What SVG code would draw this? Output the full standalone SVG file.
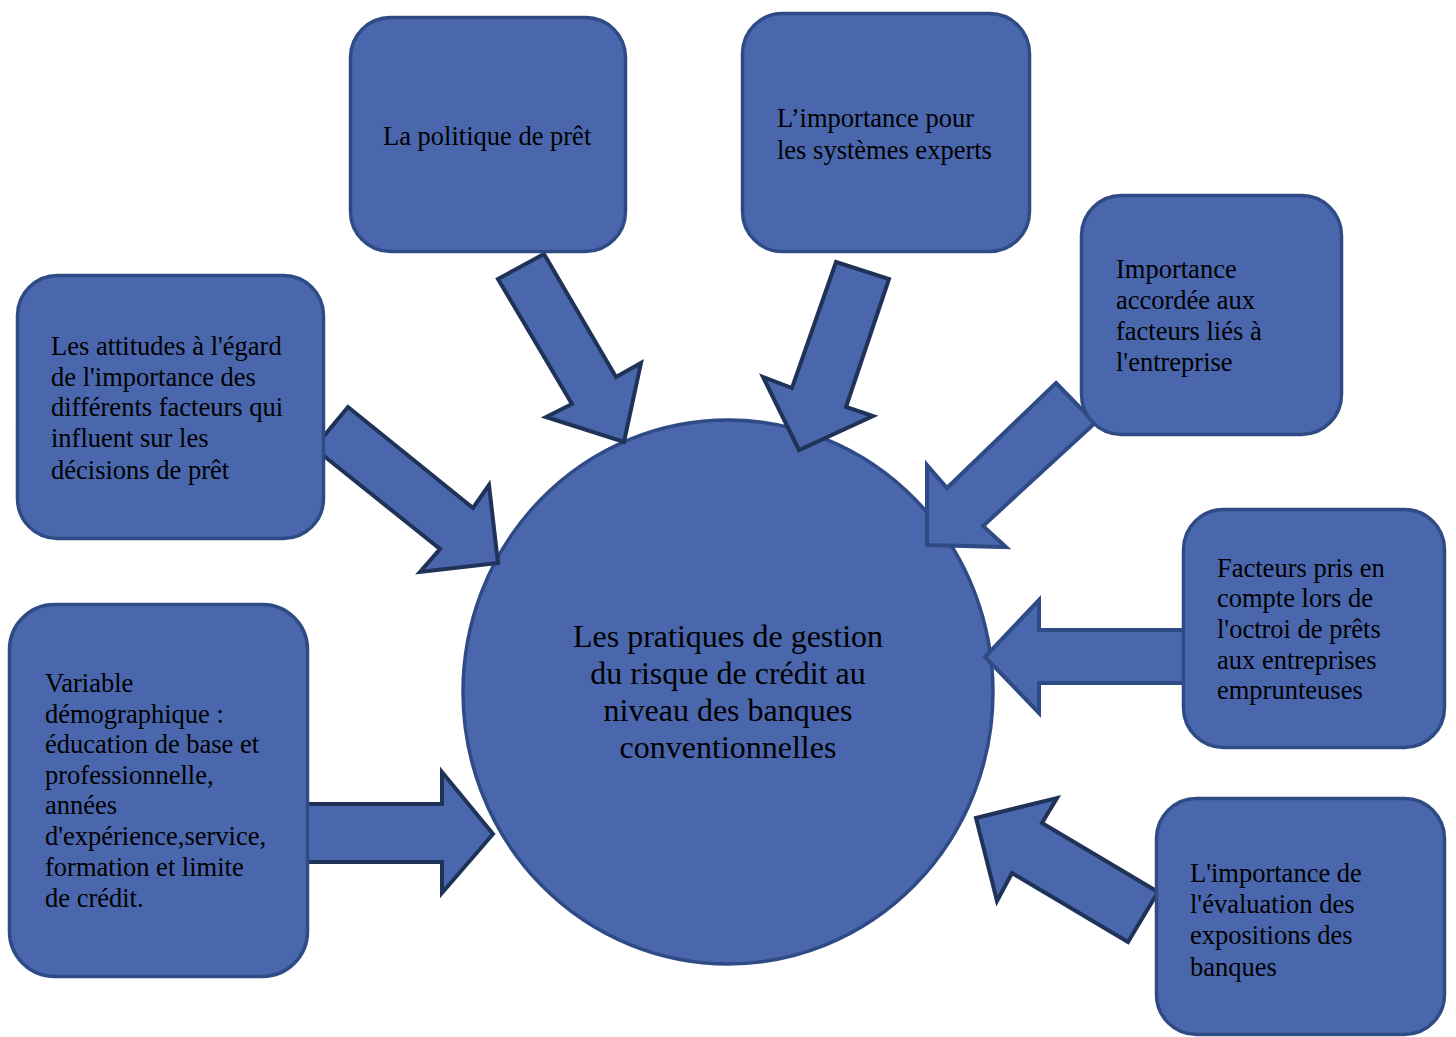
<svg xmlns="http://www.w3.org/2000/svg" width="1456" height="1037" viewBox="0 0 1456 1037">
  <style>
    .shape { fill: #4a67ad; stroke: #2f4b85; stroke-width: 3.5; }
    .arrow { fill: #4a67ad; stroke: #1f3358; stroke-width: 4; stroke-linejoin: miter; }
    .arrow.light { stroke: #2f4b85; }
    .label { font-family: "Liberation Serif", "Times New Roman", serif; font-size: 26.5px; fill: #000; }
    .title { font-family: "Liberation Serif", "Times New Roman", serif; font-size: 32px; fill: #000; text-anchor: middle; }
  </style>
  <rect width="1456" height="1037" fill="#ffffff"/>

  <!-- central node -->
  <g id="node-center">
    <ellipse class="shape" cx="728" cy="692" rx="265" ry="272"/>
    <!-- tspans kept on one line so no trailing space shifts the centred lines -->
    <text class="title"><tspan x="728" y="647">Les pratiques de gestion</tspan><tspan x="728" y="684">du risque de crédit au</tspan><tspan x="728" y="721">niveau des banques</tspan><tspan x="728" y="758">conventionnelles</tspan></text>
  </g>

  <!-- block arrows pointing at the centre -->
  <g id="connectors">
    <polygon class="arrow" points="498,279 544,254 616,377 641,363 624,442 546,417 572,404"/>
    <polygon class="arrow" points="836,262 889,279 846,407 873,416 799,450 763,377 792,388"/>
    <polygon class="arrow light" points="1056,383 1095,423 983,526 1006,547 927,545 927,465 947,488"/>
    <polygon class="arrow" points="348,407 473,508 489,485 498,563 420,572 440,549 314,448"/>
    <polygon class="arrow light" points="985,657 1039,600 1039,630 1186,630 1186,683 1039,683 1039,713"/>
    <polygon class="arrow" points="976,818 1057,798 1042,823 1158,892 1128,942 1012,873 997,901"/>
    <polygon class="arrow" points="307,804 442,804 442,772 493,834 442,893 442,862 307,862"/>
  </g>

  <g id="node-politique">
    <rect class="shape" x="350.5" y="17.5" width="275" height="234" rx="40"/>
    <text class="label"><tspan x="383" y="145">La politique de prêt</tspan></text>
  </g>

  <g id="node-systemes">
    <rect class="shape" x="742.5" y="13.5" width="287" height="238" rx="40"/>
    <text class="label">
      <tspan x="777" y="127">L’importance pour</tspan>
      <tspan x="777" y="159">les systèmes experts</tspan>
    </text>
  </g>

  <g id="node-entreprise">
    <rect class="shape" x="1081.5" y="195.5" width="260" height="239" rx="40"/>
    <text class="label">
      <tspan x="1116" y="278">Importance</tspan>
      <tspan x="1116" y="309">accordée aux</tspan>
      <tspan x="1116" y="340">facteurs liés à</tspan>
      <tspan x="1116" y="371">l'entreprise</tspan>
    </text>
  </g>

  <g id="node-attitudes">
    <rect class="shape" x="17.5" y="275.5" width="306" height="263" rx="40"/>
    <text class="label">
      <tspan x="51" y="355">Les attitudes à l'égard</tspan>
      <tspan x="51" y="386">de l'importance des</tspan>
      <tspan x="51" y="416">différents facteurs qui</tspan>
      <tspan x="51" y="447">influent sur les</tspan>
      <tspan x="51" y="479">décisions de prêt</tspan>
    </text>
  </g>

  <g id="node-demographie">
    <rect class="shape" x="9.5" y="604.5" width="298" height="372" rx="45"/>
    <text class="label">
      <tspan x="45" y="692">Variable</tspan>
      <tspan x="45" y="723">démographique :</tspan>
      <tspan x="45" y="753">éducation de base et</tspan>
      <tspan x="45" y="784">professionnelle,</tspan>
      <tspan x="45" y="814">années</tspan>
      <tspan x="45" y="845">d'expérience,service,</tspan>
      <tspan x="45" y="876">formation et limite</tspan>
      <tspan x="45" y="907">de crédit.</tspan>
    </text>
  </g>

  <g id="node-octroi">
    <rect class="shape" x="1183.5" y="509.5" width="261" height="238" rx="40"/>
    <text class="label">
      <tspan x="1217" y="577">Facteurs pris en</tspan>
      <tspan x="1217" y="607">compte lors de</tspan>
      <tspan x="1217" y="638">l'octroi de prêts</tspan>
      <tspan x="1217" y="669">aux entreprises</tspan>
      <tspan x="1217" y="699">emprunteuses</tspan>
    </text>
  </g>

  <g id="node-expositions">
    <rect class="shape" x="1156.5" y="798.5" width="288" height="236" rx="40"/>
    <text class="label">
      <tspan x="1190" y="882">L'importance de</tspan>
      <tspan x="1190" y="913">l'évaluation des</tspan>
      <tspan x="1190" y="944">expositions des</tspan>
      <tspan x="1190" y="976">banques</tspan>
    </text>
  </g>
</svg>
